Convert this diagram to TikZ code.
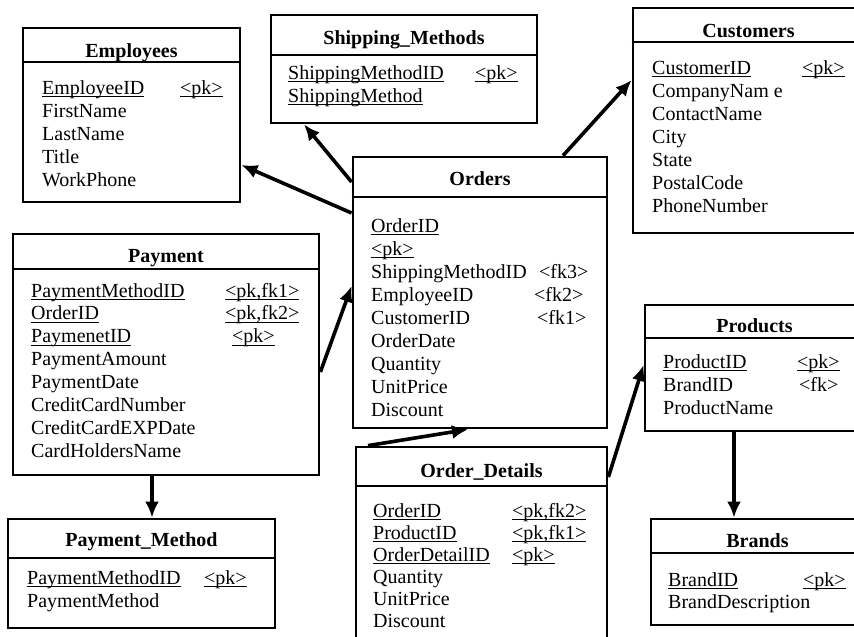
\documentclass[tikz,border=0pt]{standalone}
\usepackage{fontspec}
\setmainfont{Liberation Serif}
\usetikzlibrary{arrows.meta,fit}

% underlined key field with a rule just below the baseline
\newcommand\keyul[1]{\setbox0=\hbox{#1}\rlap{\rule[-3.4pt]{\wd0}{1.2pt}}\box0}

\tikzset{
  tbl/.style={draw, line width=2.8pt, inner sep=0pt},
  sepline/.style={line width=1.4pt},
  ttl/.style={anchor=base, inner sep=0pt, font=\fontsize{20}{23}\selectfont\bfseries},
  fld/.style={anchor=base west, inner sep=0pt, font=\fontsize{20}{23}\selectfont},
  rel/.style={line width=3.6pt, -{Latex[length=16pt,width=14pt]}},
}

\begin{document}
\begin{tikzpicture}[x=1pt,y=-1pt]
\useasboundingbox (0,0) rectangle (854,637);
\clip (0,0) rectangle (854,637);

% ---------- Employees ----------
\node[tbl, fit={(23,28) (240,202)}] (emp) {};
\draw[sepline] (emp.west |- 0,62) -- (emp.east |- 0,62);
\node[ttl] (emp-t) at (131.5,57) {Employees};
\node[fld] (emp-1) at (42,94) {\keyul{EmployeeID}};
\node[fld] (emp-1k) at (180,94) {\keyul{<pk>}};
\node[fld] (emp-2) at (42,117) {FirstName};
\node[fld] (emp-3) at (42,140) {LastName};
\node[fld] (emp-4) at (42,163) {Title};
\node[fld] (emp-5) at (42,186) {WorkPhone};

% ---------- Shipping_Methods ----------
\node[tbl, fit={(271,15) (537,123)}] (ship) {};
\draw[sepline] (ship.west |- 0,55) -- (ship.east |- 0,55);
\node[ttl] (ship-t) at (404,44) {Shipping\_Methods};
\node[fld] (ship-1) at (288,79) {\keyul{ShippingMethodID}};
\node[fld] (ship-1k) at (475,79) {\keyul{<pk>}};
\node[fld] (ship-2) at (288,102) {\keyul{ShippingMethod}};

% ---------- Customers ----------
\node[tbl, fit={(633,8) (864,233)}] (cust) {};
\draw[sepline] (cust.west |- 0,42) -- (cust.east |- 0,42);
\node[ttl] (cust-t) at (748.5,37) {Customers};
\node[fld] (cust-1) at (652,74) {\keyul{CustomerID}};
\node[fld] (cust-1k) at (802,74) {\keyul{<pk>}};
\node[fld] (cust-2) at (652,97) {CompanyNam e};
\node[fld] (cust-3) at (652,120) {ContactName};
\node[fld] (cust-4) at (652,143) {City};
\node[fld] (cust-5) at (652,166) {State};
\node[fld] (cust-6) at (652,189) {PostalCode};
\node[fld] (cust-7) at (652,212) {PhoneNumber};

% ---------- Orders ----------
\node[tbl, fit={(353,157) (607,428)}] (ord) {};
\draw[sepline] (ord.west |- 0,197) -- (ord.east |- 0,197);
\node[ttl] (ord-t) at (480,185) {Orders};
\node[fld] (ord-1) at (371,232) {\keyul{OrderID}};
\node[fld] (ord-2) at (371,255) {\keyul{<pk>}};
\node[fld] (ord-3) at (371,278) {ShippingMethodID};
\node[fld] (ord-3k) at (539,278) {<fk3>};
\node[fld] (ord-4) at (371,301) {EmployeeID};
\node[fld] (ord-4k) at (534,301) {<fk2>};
\node[fld] (ord-5) at (371,324) {CustomerID};
\node[fld] (ord-5k) at (537,324) {<fk1>};
\node[fld] (ord-6) at (371,347) {OrderDate};
\node[fld] (ord-7) at (371,370) {Quantity};
\node[fld] (ord-8) at (371,393) {UnitPrice};
\node[fld] (ord-9) at (371,416) {Discount};

% ---------- Payment ----------
\node[tbl, fit={(13,234) (319,475)}] (pay) {};
\draw[sepline] (pay.west |- 0,269) -- (pay.east |- 0,269);
\node[ttl] (pay-t) at (166,262) {Payment};
\node[fld] (pay-1) at (31,297) {\keyul{PaymentMethodID}};
\node[fld] (pay-1k) at (225,297) {\keyul{<pk,fk1>}};
\node[fld] (pay-2) at (31,319.9) {\keyul{OrderID}};
\node[fld] (pay-2k) at (225,319.9) {\keyul{<pk,fk2>}};
\node[fld] (pay-3) at (31,342.7) {\keyul{PaymenetID}};
\node[fld] (pay-3k) at (232,342.7) {\keyul{<pk>}};
\node[fld] (pay-4) at (31,365.6) {PaymentAmount};
\node[fld] (pay-5) at (31,388.4) {PaymentDate};
\node[fld] (pay-6) at (31,411.3) {CreditCardNumber};
\node[fld] (pay-7) at (31,434.1) {CreditCardEXPDate};
\node[fld] (pay-8) at (31,457) {CardHoldersName};

% ---------- Payment_Method ----------
\node[tbl, fit={(8,519) (275,628)}] (pm) {};
\draw[sepline] (pm.west |- 0,558) -- (pm.east |- 0,558);
\node[ttl] (pm-t) at (141.5,546) {Payment\_Method};
\node[fld] (pm-1) at (27,584) {\keyul{PaymentMethodID}};
\node[fld] (pm-1k) at (204,584) {\keyul{<pk>}};
\node[fld] (pm-2) at (27,607) {PaymentMethod};

% ---------- Order_Details ----------
\node[tbl, fit={(356,447) (607,660)}] (od) {};
\draw[sepline] (od.west |- 0,486) -- (od.east |- 0,486);
\node[ttl] (od-t) at (481.5,477) {Order\_Details};
\node[fld] (od-1) at (373,517) {\keyul{OrderID}};
\node[fld] (od-1k) at (512,517) {\keyul{<pk,fk2>}};
\node[fld] (od-2) at (373,539) {\keyul{ProductID}};
\node[fld] (od-2k) at (512,539) {\keyul{<pk,fk1>}};
\node[fld] (od-3) at (373,561) {\keyul{OrderDetailID}};
\node[fld] (od-3k) at (512,561) {\keyul{<pk>}};
\node[fld] (od-4) at (373,583) {Quantity};
\node[fld] (od-5) at (373,605) {UnitPrice};
\node[fld] (od-6) at (373,627) {Discount};

% ---------- Products ----------
\node[tbl, fit={(645,305) (864,431)}] (prod) {};
\draw[sepline] (prod.west |- 0,338) -- (prod.east |- 0,338);
\node[ttl] (prod-t) at (754.5,332) {Products};
\node[fld] (prod-1) at (663,368) {\keyul{ProductID}};
\node[fld] (prod-1k) at (797,368) {\keyul{<pk>}};
\node[fld] (prod-2) at (663,391) {BrandID};
\node[fld] (prod-2k) at (799,391) {<fk>};
\node[fld] (prod-3) at (663,414) {ProductName};

% ---------- Brands ----------
\node[tbl, fit={(651,519) (864,625)}] (brand) {};
\draw[sepline] (brand.west |- 0,553) -- (brand.east |- 0,553);
\node[ttl] (brand-t) at (757.5,547) {Brands};
\node[fld] (brand-1) at (668,586) {\keyul{BrandID}};
\node[fld] (brand-1k) at (803,586) {\keyul{<pk>}};
\node[fld] (brand-2) at (668,608) {BrandDescription};

% ---------- relationships ----------
\draw[rel] (ord.west |- 0,213) -- (emp.east |- 0,165);
\draw[rel] (ord.west |- 0,182) -- (ship.south -| 304,0);
\draw[rel] (ord.north -| 563,0) -- (cust.west |- 0,80);
\draw[rel] (pay.east |- 0,372) -- (ord.west |- 0,286);
\draw[rel] (od.north -| 368,0) -- (ord.south -| 468,0);
\draw[rel] (od.east |- 0,477) -- (prod.west |- 0,365);
\draw[rel] (prod.south -| 734,0) -- (brand.north -| 734,0);
\draw[rel] (pay.south -| 152,0) -- (pm.north -| 152,0);
\end{tikzpicture}
\end{document}
